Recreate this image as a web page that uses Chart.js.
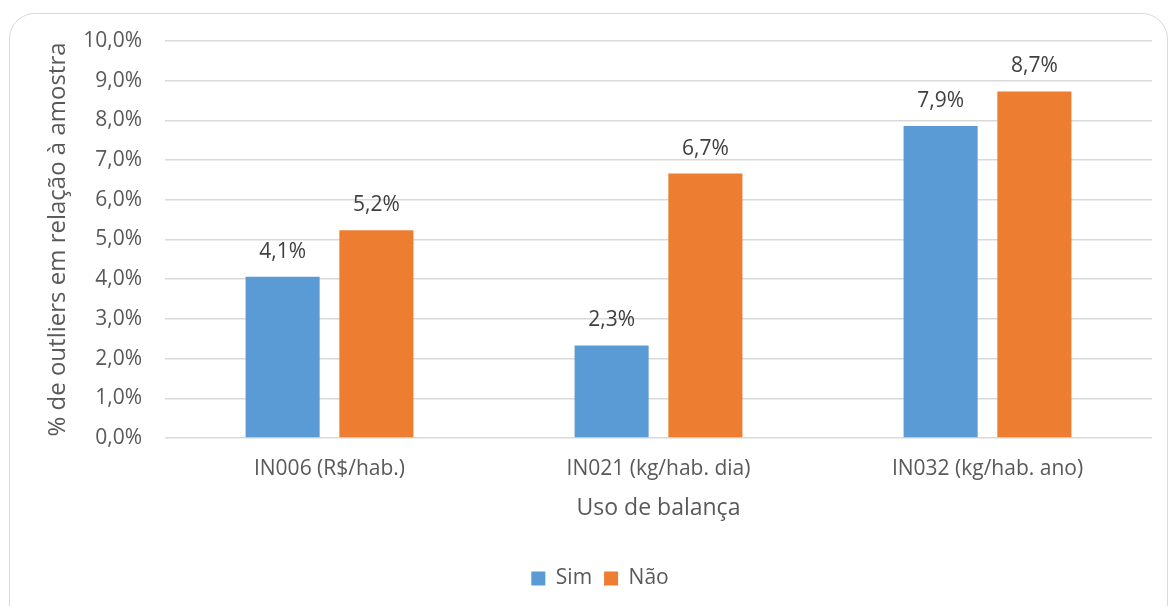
<!DOCTYPE html>
<html>
<head>
<meta charset="utf-8">
<script src="https://cdn.jsdelivr.net/npm/chart.js@4"></script>
<style>
  html, body { margin:0; padding:0; background:#fff; }
  #frame { position:absolute; left:9px; top:13px; width:1159px; height:620px; border:1.5px solid #d9d9d9; border-radius:26px; box-sizing:border-box; }
  #wrap { position:absolute; left:0; top:0; width:1170px; height:606px; }
</style>
</head>
<body>
<div id="frame"></div>
<div id="wrap"><canvas id="chart" width="1170" height="606"></canvas></div>
<script>
(function(){
  const categories = ['IN006 (R$/hab.)', 'IN021 (kg/hab. dia)', 'IN032 (kg/hab. ano)'];
  const simValues = [4.06, 2.33, 7.86];
  const naoValues = [5.23, 6.66, 8.73];
  const seriesNames = ['Sim', 'Não'];
  const yTicks = [0,1,2,3,4,5,6,7,8,9,10];

  const FONT = "'Open Sans', 'Liberation Sans', sans-serif";
  const TXT = '#595959';

  function pct(v){ return v.toFixed(1).replace('.', ',') + '%'; }

  // rótulos de dados acima das barras
  const barLabels = {
    id: 'barLabels',
    afterDatasetsDraw(chart){
      const ctx = chart.ctx;
      ctx.save();
      ctx.font = '21px ' + FONT;
      ctx.fillStyle = '#404040';
      ctx.textAlign = 'center';
      ctx.textBaseline = 'middle';
      chart.data.datasets.forEach((ds, i)=>{
        chart.getDatasetMeta(i).data.forEach((bar, j)=>{
          ctx.fillText(pct(ds.data[j]), bar.x, bar.y - 25);
        });
      });
      ctx.restore();
    }
  };

  // legenda do Excel fica um pouco à direita do centro
  const legendShift = {
    id: 'legendShift',
    afterLayout(chart){
      const lg = chart.legend; if(!lg) return;
      lg.left += 24; lg.right += 24;
    }
  };

  new Chart(document.getElementById('chart'), {
    type: 'bar',
    data: {
      labels: categories,
      datasets: [
        { label: seriesNames[0], data: simValues, backgroundColor: '#5B9BD5', categoryPercentage: 0.57, barPercentage: 0.79 },
        { label: seriesNames[1], data: naoValues, backgroundColor: '#ED7D31', categoryPercentage: 0.57, barPercentage: 0.79 }
      ]
    },
    options: {
      responsive: false,
      animation: false,
      layout: { padding: { left: 0, right: 18, top: 41, bottom: 7 } },
      plugins: {
        tooltip: { enabled: false },
        legend: {
          position: 'bottom',
          labels: { color: TXT, font: { family: FONT, size: 21 }, boxWidth: 14, boxHeight: 14, padding: 12 }
        }
      },
      scales: {
        x: {
          grid: { display: false },
          border: { display: false },
          ticks: { color: TXT, font: { family: FONT, size: 21 }, padding: 10 },
          title: { display: true, text: 'Uso de balança', color: TXT, font: { family: FONT, size: 23 }, padding: { top: 10, bottom: 34 } },
          afterFit(s){ s.height = 118; }
        },
        y: {
          min: 0, max: 10,
          afterBuildTicks(s){ s.ticks = yTicks.map(v=>({ value: v })); },
          grid: { color: '#d9d9d9', lineWidth: 1.5, drawTicks: false },
          border: { display: false },
          ticks: { color: TXT, font: { family: FONT, size: 21 }, padding: 23, callback: v => pct(v) },
          title: { display: true, text: '% de outliers em relação à amostra', color: TXT, font: { family: FONT, size: 24 }, padding: { top: 44, bottom: 0 } },
          afterFit(s){ s.width = 165; }
        }
      }
    },
    plugins: [barLabels, legendShift]
  });
})();
</script>
</body>
</html>
